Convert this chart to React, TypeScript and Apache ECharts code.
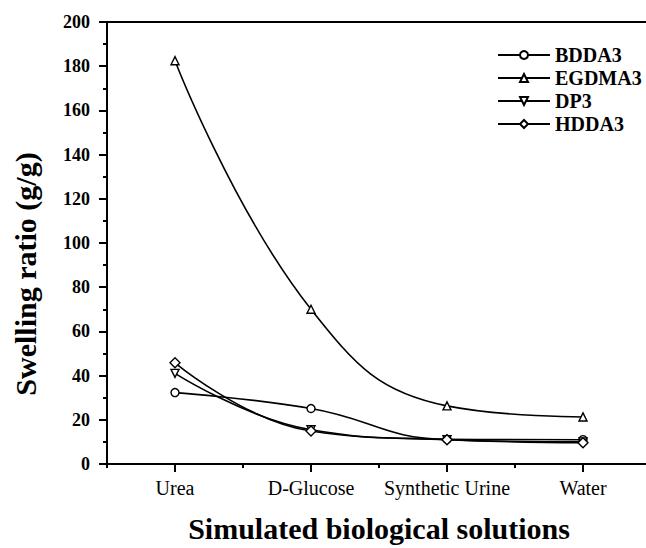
import React, { useEffect, useRef } from "react";
import * as echarts from "echarts";

const categories = ["Urea", "D-Glucose", "Synthetic Urine", "Water"];
const yTicks = { min: 0, max: 200, interval: 20 };
const seriesNames = ["BDDA3", "EGDMA3", "DP3", "HDDA3"];
const bdda3 = [32.3, 25.1, 11.2, 11.0];
const egdma3 = [182.5, 70.0, 26.3, 21.3];
const dp3 = [41.0, 15.5, 11.0, 10.0];
const hdda3 = [45.8, 14.9, 11.0, 9.6];
const yTitle = "Swelling ratio (g/g)";
const xTitle = "Simulated biological solutions";

const FONT = "'Liberation Serif', 'Times New Roman', serif";

export default function App() {
  const ref = useRef<HTMLDivElement>(null);
  useEffect(() => {
    if (!ref.current) return;
    const chart = echarts.init(ref.current, null, { renderer: "svg" });
    const symbols = ["circle", "triangle", "triangle", "diamond"];
    const rotates = [0, 0, 180, 0];
    const datas = [bdda3, egdma3, dp3, hdda3];
    const series = seriesNames.map((name, i) => ({
      name,
      type: "line",
      data: datas[i],
      smooth: 0.45,
      symbol: symbols[i],
      symbolRotate: rotates[i],
      symbolSize: symbols[i] === "diamond" ? 10 : 8,
      showSymbol: true,
      lineStyle: { color: "#000", width: 1.6 },
      itemStyle: { color: "#fff", borderColor: "#000", borderWidth: 1.4 },
      z: 3,
    }));
    const axisLine = { show: true, lineStyle: { color: "#000", width: 2 } };
    chart.setOption({
      animation: false,
      backgroundColor: "#fff",
      grid: { left: 107, right: 9, top: 22, bottom: 83 },
      legend: {
        orient: "vertical",
        left: 492,
        top: 40,
        itemWidth: 52,
        itemHeight: 10,
        itemGap: 3,
        data: seriesNames,
        textStyle: {
          fontFamily: FONT,
          fontWeight: "bold",
          fontSize: 20,
          color: "#000",
          lineHeight: 20,
        },
      },
      graphic: [
        {
          type: "text",
          x: 25,
          y: 274,
          rotation: Math.PI / 2,
          style: {
            text: yTitle,
            fontFamily: FONT,
            fontWeight: "bold",
            fontSize: 30,
            fill: "#000",
            align: "center",
            verticalAlign: "middle",
          },
        },
      ],
      xAxis: [
        {
          type: "category",
          data: categories,
          boundaryGap: true,
          position: "bottom",
          axisLine,
          axisTick: { show: true, alignWithLabel: true, interval: 0, length: 8, lineStyle: { color: "#000", width: 2 } },
          axisLabel: { interval: 0, fontFamily: FONT, fontSize: 20, color: "#000", margin: 14 },
          name: xTitle,
          nameLocation: "middle",
          nameGap: 49,
          nameTextStyle: { fontFamily: FONT, fontWeight: "bold", fontSize: 30, color: "#000" },
          splitLine: { show: false },
        },
        {
          type: "category",
          data: categories,
          boundaryGap: true,
          position: "bottom",
          axisLine: { show: false },
          axisTick: { show: true, alignWithLabel: false, interval: 0, length: 4, lineStyle: { color: "#000", width: 2 } },
          axisLabel: { show: false },
          splitLine: { show: false },
        },
        {
          type: "category",
          data: categories,
          boundaryGap: true,
          position: "top",
          axisLine,
          axisTick: { show: false },
          axisLabel: { show: false },
          splitLine: { show: false },
        },
      ],
      yAxis: {
        type: "value",
        min: yTicks.min,
        max: yTicks.max,
        interval: yTicks.interval,
        axisLine,
        axisTick: { show: true, length: 8, lineStyle: { color: "#000", width: 2 } },
        minorTick: { show: true, splitNumber: 2, length: 4, lineStyle: { color: "#000", width: 2 } },
        splitLine: { show: false },
        axisLabel: { fontFamily: FONT, fontWeight: "bold", fontSize: 18, color: "#000", margin: 17 },
      },
      series,
    });
    return () => chart.dispose();
  }, []);
  return (
    <div style={{ position: "fixed", left: 0, top: 0, width: 646, height: 548, overflow: "hidden", background: "#fff" }}>
      <div ref={ref} style={{ width: 660, height: 548 }} />
    </div>
  );
}
